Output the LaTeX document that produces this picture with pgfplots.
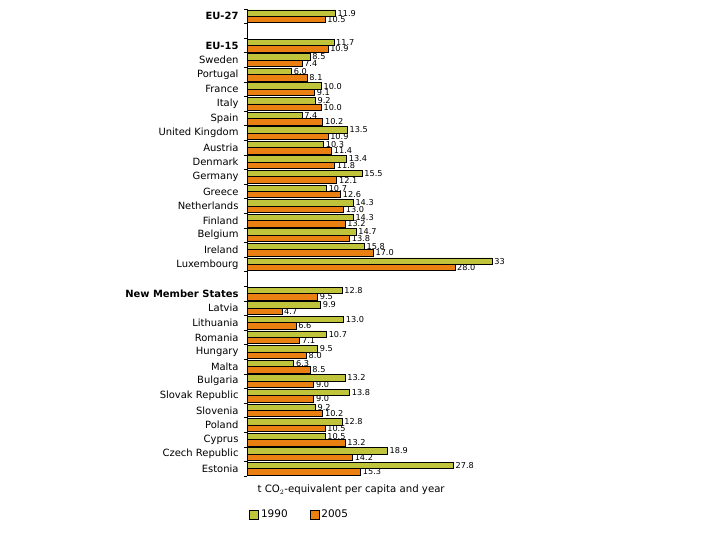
\documentclass[border=0pt]{standalone}
\usepackage{pgfplots}
\pgfplotsset{compat=1.18}
\usepackage{pgfplotstable}
\usepackage{fontspec}
\setmainfont{DejaVu Sans}
\definecolor{cgreen}{RGB}{191,196,59}
\definecolor{corange}{RGB}{234,128,18}

\pgfplotstableread{
pos val lab
0 11.9 11.9
2 11.7 11.7
3 8.5 8.5
4 6.0 6.0
5 10.0 10.0
6 9.2 9.2
7 7.4 7.4
8 13.5 13.5
9 10.3 10.3
10 13.4 13.4
11 15.5 15.5
12 10.7 10.7
13 14.3 14.3
14 14.3 14.3
15 14.7 14.7
16 15.8 15.8
17 33.0 33
19 12.8 12.8
20 9.9 9.9
21 13.0 13.0
22 10.7 10.7
23 9.5 9.5
24 6.3 6.3
25 13.2 13.2
26 13.8 13.8
27 9.2 9.2
28 12.8 12.8
29 10.5 10.5
30 18.9 18.9
31 27.8 27.8
}\tA

\pgfplotstableread{
pos val lab
0 10.5 10.5
2 10.9 10.9
3 7.4 7.4
4 8.1 8.1
5 9.1 9.1
6 10.0 10.0
7 10.2 10.2
8 10.9 10.9
9 11.4 11.4
10 11.8 11.8
11 12.1 12.1
12 12.6 12.6
13 13.0 13.0
14 13.2 13.2
15 13.8 13.8
16 17.0 17.0
17 28.0 28.0
19 9.5 9.5
20 4.7 4.7
21 6.6 6.6
22 7.1 7.1
23 8.0 8.0
24 8.5 8.5
25 9.0 9.0
26 9.0 9.0
27 10.2 10.2
28 10.5 10.5
29 13.2 13.2
30 14.2 14.2
31 15.3 15.3
}\tB

\begin{document}
\begin{tikzpicture}
\path[use as bounding box] (0,0) rectangle (720bp,540bp);
\begin{axis}[
  at={(247bp,531bp)}, anchor=north west,
  scale only axis, width=245bp, height=467bp,
  xmin=0, xmax=33, ymin=-0.5, ymax=31.5, y dir=reverse,
  xbar, bar width=0.44,
  hide x axis,
  axis y line*=left,
  clip=false,
  ytick={0,2,3,4,5,6,7,8,9,10,11,12,13,14,15,16,17,19,20,21,22,23,24,25,26,27,28,29,30,31},
  yticklabels={\textbf{EU-27},\textbf{EU-15},Sweden,Portugal,France,Italy,Spain,United Kingdom,Austria,Denmark,Germany,Greece,Netherlands,Finland,Belgium,Ireland,Luxembourg,\textbf{New Member States},Latvia,Lithuania,Romania,Hungary,Malta,Bulgaria,Slovak Republic,Slovenia,Poland,Cyprus,Czech Republic,Estonia},
  major tick length=0pt,
  minor ytick={-0.5,0.5,...,31.5},
  minor tick length=3bp,
  tick align=outside,
  tick style={black, line width=0.6bp},
  y axis line style={black, line width=0.8bp},
  yticklabel style={font=\fontsize{10}{12}\selectfont, xshift=-5bp},
  point meta=explicit symbolic,
  nodes near coords,
  nodes near coords style={font=\fontsize{8.2}{9}\selectfont, anchor=west, inner xsep=2bp, inner ysep=0pt},
  legend columns=-1,
  legend style={at={(axis description cs:0.215,-0.083)}, anchor=center, draw=none, fill=none,
    font=\fontsize{10.5}{12}\selectfont, /tikz/every even column/.append style={column sep=20bp}},
]
\addplot[fill=cgreen, draw=black, line width=0.7bp, bar shift=-0.22,
  legend image code/.code={\draw[fill=cgreen,draw=black,line width=0.7bp] (0bp,-4.5bp) rectangle (9bp,4.5bp);}]
  table[x=val, y=pos, meta=lab] {\tA};
\addlegendentry{1990}
\addplot[fill=corange, draw=black, line width=0.7bp, bar shift=0.22,
  legend image code/.code={\draw[fill=corange,draw=black,line width=0.7bp] (0bp,-4.5bp) rectangle (9bp,4.5bp);}]
  table[x=val, y=pos, meta=lab] {\tB};
\addlegendentry{2005}
\node[font=\fontsize{10.2}{12}\selectfont] at (axis description cs:0.425,-0.03) {t CO$_2$-equivalent per capita and year};
\end{axis}
\end{tikzpicture}
\end{document}
